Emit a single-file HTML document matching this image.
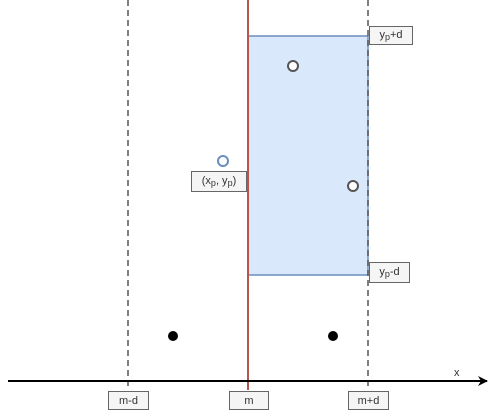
<!DOCTYPE html>
<html><head><meta charset="utf-8"><style>
html,body{margin:0;padding:0;background:#fff;width:498px;height:412px;overflow:hidden;font-family:"Liberation Sans",sans-serif;}
.lbl{position:absolute;background:#f5f5f5;border:1px solid #666;font-size:11px;color:#333;text-align:center;line-height:19px;height:19px;box-sizing:border-box;}
sub{font-size:9px;vertical-align:-2px;line-height:0}
</style></head><body>
<svg id="chart" width="498" height="412" style="position:absolute;left:0;top:0">
<defs><marker id="arr" markerWidth="10" markerHeight="10" refX="9" refY="5" orient="auto" markerUnits="userSpaceOnUse"><path d="M0,0 L10,5 L0,10 L3,5 Z" fill="#000"/></marker></defs>
<rect x="248" y="36" width="120" height="239" fill="#dae8fc" stroke="#6c8ebf" stroke-width="1.5"/>
<g id="guides"></g>
<line x1="8" y1="381" x2="487" y2="381" stroke="#000" stroke-width="2" marker-end="url(#arr)"/>
<text x="454" y="376" font-size="11" fill="#333" font-family="Liberation Sans, sans-serif">x</text>
<g id="pts"></g>
</svg>
<div class="lbl" style="left:108px;top:391px;width:41px">m-d</div>
<div class="lbl" style="left:229px;top:391px;width:40px">m</div>
<div class="lbl" style="left:348px;top:391px;width:41px">m+d</div>
<div class="lbl" style="left:369px;top:26px;width:44px;line-height:17px">y<sub>p</sub>+d</div>
<div class="lbl" style="left:369px;top:262px;width:41px;height:21px;line-height:19px">y<sub>p</sub>-d</div>
<div class="lbl" style="left:191px;top:171px;width:56px;height:21px;line-height:19px">(x<sub>p</sub>, y<sub>p</sub>)</div>
<script>
const guideX=[128,248,368];
const guideKind=["dashed","median","dashed"];
const pxs=[223,293,353,173,333];
const pys=[161,66,186,336,336];
const pKind=["query","open","open","filled","filled"];
const NS="http://www.w3.org/2000/svg";
const g=document.getElementById("guides");
guideX.forEach((x,i)=>{
  const l=document.createElementNS(NS,"line");
  l.setAttribute("x1",x);l.setAttribute("x2",x);l.setAttribute("y1",0);l.setAttribute("y2",390);
  if(guideKind[i]==="median"){l.setAttribute("stroke","#b85450");l.setAttribute("stroke-width","2");}
  else{l.setAttribute("stroke","#555");l.setAttribute("stroke-width","1.5");l.setAttribute("stroke-dasharray","6 4");}
  
  
  g.appendChild(l);
});
const p=document.getElementById("pts");
pxs.forEach((x,i)=>{
  const c=document.createElementNS(NS,"circle");
  c.setAttribute("cx",x);c.setAttribute("cy",pys[i]);c.setAttribute("r",5);
  const k=pKind[i];
  if(k==="query"){c.setAttribute("fill","#fff");c.setAttribute("stroke","#6c8ebf");c.setAttribute("stroke-width","2");}
  else if(k==="open"){c.setAttribute("fill","#fff");c.setAttribute("stroke","#555");c.setAttribute("stroke-width","2");}
  else{c.setAttribute("fill","#000");}
  
  
  p.appendChild(c);
});
</script>
</body></html>
